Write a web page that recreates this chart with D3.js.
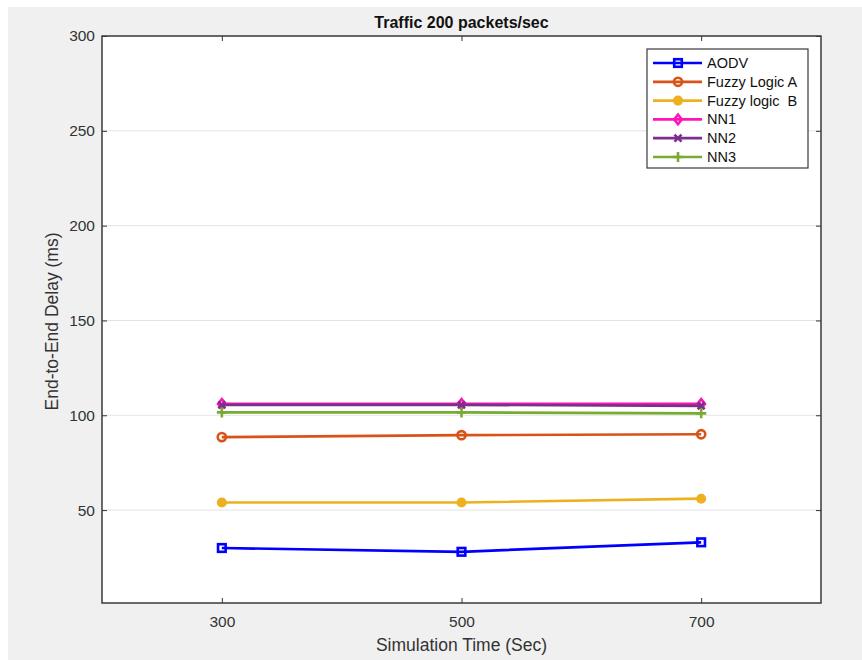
<!DOCTYPE html>
<html>
<head>
<meta charset="utf-8">
<script src="https://cdn.jsdelivr.net/npm/d3@7"></script>
<style>
html,body{margin:0;padding:0;background:#fff;}
svg{display:block;font-family:"Liberation Sans",Arial,Helvetica,sans-serif;}
</style>
</head>
<body>
<svg id="chart" width="862" height="660"></svg>
<script>
const xValues = [300, 500, 700];
const xTicks = [300, 500, 700];
const yTicks = [50, 100, 150, 200, 250, 300];
const seriesNames = ["AODV", "Fuzzy Logic A", "Fuzzy logic  B", "NN1", "NN2", "NN3"];
const aodv = [30, 28, 33];
const fuzzyA = [88.5, 89.5, 90];
const fuzzyB = [54, 54, 56];
const nn1 = [106, 106, 106];
const nn2 = [105.5, 105.5, 105];
const nn3 = [101.5, 101.5, 101];
const seriesColors = ["#0000ff", "#d95319", "#edb120", "#ff14b4", "#7e2f8e", "#77ac30"];
const seriesMarkers = ["square", "circle", "dot", "diamond", "x", "plus"];

const series = [aodv, fuzzyA, fuzzyB, nn1, nn2, nn3].map((vals, i) => ({
  name: seriesNames[i], color: seriesColors[i], marker: seriesMarkers[i],
  points: vals.map((v, j) => ({x: xValues[j], y: v}))
}));

const svg = d3.select("#chart");
svg.append("rect").attr("x", 8).attr("y", 7).attr("width", 854).attr("height", 653).attr("fill", "#f0f0f0");

const L = 102, R = 821, T = 36, B = 603;
const x = d3.scaleLinear().domain([200, 800]).range([L, R]);
const y = d3.scaleLinear().domain([1, 300]).range([B, T]);

svg.append("rect").attr("x", L).attr("y", T).attr("width", R - L).attr("height", B - T).attr("fill", "#fff");

// grid
svg.append("g").selectAll("line").data(yTicks).join("line")
  .attr("x1", L).attr("x2", R).attr("y1", d => y(d)).attr("y2", d => y(d))
  .attr("stroke", "#e3e3e3").attr("stroke-width", 1);

// axes
const axisColor = "#333";
const gx = svg.append("g").attr("transform", `translate(0,${B})`)
  .call(d3.axisBottom(x).tickValues(xTicks).tickSize(-5).tickPadding(13).tickFormat(d3.format("d")));
const gy = svg.append("g").attr("transform", `translate(${L},0)`)
  .call(d3.axisLeft(y).tickValues(yTicks).tickSize(-5).tickPadding(7).tickFormat(d3.format("d")));
const gxt = svg.append("g").attr("transform", `translate(0,${T})`)
  .call(d3.axisTop(x).tickValues(xTicks).tickSize(-5).tickFormat(""));
const gyr = svg.append("g").attr("transform", `translate(${R},0)`)
  .call(d3.axisRight(y).tickValues(yTicks).tickSize(-5).tickFormat(""));
[gx, gy, gxt, gyr].forEach(g => {
  g.select(".domain").remove();
  g.selectAll(".tick line").attr("stroke", axisColor).attr("stroke-width", 1);
  g.selectAll(".tick text").attr("fill", axisColor).attr("font-size", 15.5)
    .attr("font-family", "'Liberation Sans',Arial,sans-serif");
});
svg.append("rect").attr("x", L).attr("y", T).attr("width", R - L).attr("height", B - T)
  .attr("fill", "none").attr("stroke", "#3a3a3a").attr("stroke-width", 1.5);

// lines
const line = d3.line().x(d => x(d.x)).y(d => y(d.y));
function drawMarker(g, type, cx, cy, color) {
  const s = 3.8;
  if (type === "square") {
    g.append("rect").attr("x", cx - s).attr("y", cy - s).attr("width", 2 * s).attr("height", 2 * s)
      .attr("fill", "none").attr("stroke", color).attr("stroke-width", 2.6);
  } else if (type === "circle") {
    g.append("circle").attr("cx", cx).attr("cy", cy).attr("r", s + 0.3).attr("fill", "none").attr("stroke", color).attr("stroke-width", 2.6);
  } else if (type === "dot") {
    g.append("circle").attr("cx", cx).attr("cy", cy).attr("r", s + 0.5).attr("fill", color).attr("stroke", color).attr("stroke-width", 1.5);
  } else if (type === "diamond") {
    g.append("path").attr("d", `M${cx},${cy - s - 1}L${cx + s},${cy}L${cx},${cy + s + 1}L${cx - s},${cy}Z`)
      .attr("fill", "none").attr("stroke", color).attr("stroke-width", 2.6);
  } else if (type === "x") {
    g.append("path").attr("d", `M${cx - 3.5},${cy - 3.5}L${cx + 3.5},${cy + 3.5}M${cx - 3.5},${cy + 3.5}L${cx + 3.5},${cy - 3.5}`)
      .attr("stroke", color).attr("stroke-width", 2.6);
  } else if (type === "plus") {
    g.append("path").attr("d", `M${cx - 5},${cy}L${cx + 5},${cy}M${cx},${cy - 5}L${cx},${cy + 5}`)
      .attr("stroke", color).attr("stroke-width", 2.6);
  }
}
const plotG = svg.append("g");
series.forEach(s => {
  const g = plotG.append("g");
  g.append("path").datum(s.points).attr("d", line).attr("fill", "none")
    .attr("stroke", s.color).attr("stroke-width", 2.7);
  s.points.forEach(p => drawMarker(g, s.marker, x(p.x), y(p.y), s.color));
});

// title and labels
svg.append("text").attr("x", (L + R) / 2).attr("y", 28).attr("text-anchor", "middle")
  .attr("font-size", 16).attr("font-weight", "bold").attr("fill", "#111").text("Traffic 200 packets/sec");
svg.append("text").attr("x", (L + R) / 2).attr("y", 651).attr("text-anchor", "middle")
  .attr("font-size", 17.5).attr("fill", axisColor).text("Simulation Time (Sec)");
svg.append("text").attr("transform", `translate(58,${(T + B) / 2 + 2}) rotate(-90)`).attr("text-anchor", "middle")
  .attr("font-size", 17.5).attr("fill", axisColor).text("End-to-End Delay (ms)");

// legend
const lg = svg.append("g");
lg.append("rect").attr("x", 647).attr("y", 49).attr("width", 161).attr("height", 119)
  .attr("fill", "#fff").attr("stroke", "#3a3a3a").attr("stroke-width", 1.2);
series.forEach((s, i) => {
  const ly = 63 + i * 18.8;
  lg.append("line").attr("x1", 653).attr("x2", 702).attr("y1", ly).attr("y2", ly)
    .attr("stroke", s.color).attr("stroke-width", 2.7);
  drawMarker(lg, s.marker, 678, ly, s.color);
  lg.append("text").attr("x", 707).attr("y", ly + 5).attr("font-size", 14.5).attr("fill", "#111")
    .style("white-space", "pre").attr("xml:space", "preserve").text(s.name);
});
</script>
</body>
</html>
